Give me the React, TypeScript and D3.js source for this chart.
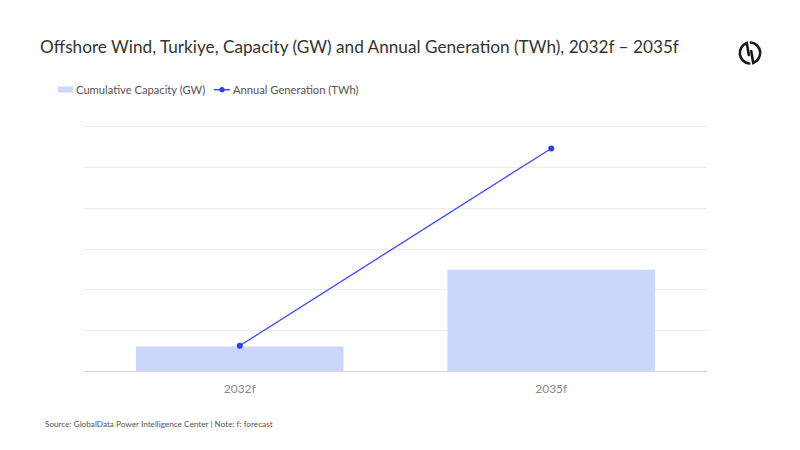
import React, { useEffect, useRef } from 'react';
import * as d3 from 'd3';

// values (no axis labels shown, so scales are estimated)
const categories = ['2032f', '2035f'];
const capacityGW = [0.3, 1.24];
const generationTWh = [1.24, 10.9];
const capacityTicks = [0, 0.5, 1, 1.5, 2, 2.5, 3];

const W = 800;
const H = 450;
const FONT = 'Lato, "Open Sans", sans-serif';

const App: React.FC = () => {
  const svgRef = useRef<SVGSVGElement | null>(null);

  useEffect(() => {
    if (!svgRef.current) return;
    const svg = d3.select(svgRef.current);
    svg.selectAll('*').remove();

    const left = 84, right = 707, top = 126, bottom = 371;

    const x = d3.scaleBand<string>()
      .domain(categories)
      .range([left, right])
      .paddingInner(1 / 3)
      .paddingOuter(1 / 6);

    const yCap = d3.scaleLinear().domain([0, 3]).range([bottom, top]);
    const yGen = d3.scaleLinear().domain([0, 12]).range([bottom, top]);

    svg.append('rect').attr('width', W).attr('height', H).attr('fill', '#fff');

    // title
    svg.append('text')
      .attr('x', 40).attr('y', 53)
      .attr('font-family', FONT)
      .attr('font-size', 17.2)
      .attr('fill', '#333')
      .text('Offshore Wind, Turkiye, Capacity (GW) and Annual Generation (TWh), 2032f \u2013 2035f');

    // logo, roughly: two broken arcs with tails into the middle
    const logo = svg.append('g').attr('transform', 'translate(750,53)')
      .attr('fill', 'none').attr('stroke', '#1a1a1a').attr('stroke-width', 2.6).attr('stroke-linecap', 'round');
    logo.append('path').attr('d', 'M -1.2 2 L -3.2 -9.9 A 10.5 10.5 0 0 0 -0.8 10.45');
    logo.append('path').attr('d', 'M 1.2 -2 L 3.2 9.9 A 10.5 10.5 0 0 0 0.8 -10.45');

    // legend
    const lg = svg.append('g').attr('font-family', FONT).attr('font-size', 11.2).attr('fill', '#555');
    lg.append('rect').attr('x', 58).attr('y', 86.5).attr('width', 15).attr('height', 6).attr('fill', '#cbd6fd');
    lg.append('text').attr('x', 76).attr('y', 93.6).text('Cumulative Capacity (GW)');
    lg.append('line').attr('x1', 214).attr('x2', 230).attr('y1', 89.7).attr('y2', 89.7)
      .attr('stroke', '#3a4bea').attr('stroke-width', 1.5);
    lg.append('circle').attr('cx', 222).attr('cy', 89.7).attr('r', 2.6).attr('fill', '#2b3fe3');
    lg.append('text').attr('x', 233).attr('y', 93.6).text('Annual Generation (TWh)');

    // gridlines
    svg.append('g').selectAll('line')
      .data(capacityTicks)
      .enter().append('line')
      .attr('x1', left).attr('x2', right)
      .attr('y1', d => Math.round(yCap(d)) + 0.5)
      .attr('y2', d => Math.round(yCap(d)) + 0.5)
      .attr('stroke', d => (d === 0 ? '#d6d6d6' : '#ececec'))
      .attr('stroke-width', 1);

    // bars
    svg.append('g').selectAll('rect')
      .data(capacityGW)
      .enter().append('rect')
      .attr('x', (_, i) => x(categories[i])!)
      .attr('width', x.bandwidth())
      .attr('y', d => yCap(d))
      .attr('height', d => bottom - yCap(d))
      .attr('fill', '#cbd6fd');

    // line
    const line = d3.line<number>()
      .x((_, i) => x(categories[i])! + x.bandwidth() / 2)
      .y(d => yGen(d));
    svg.append('path')
      .datum(generationTWh)
      .attr('d', line)
      .attr('fill', 'none')
      .attr('stroke', '#3a4bea')
      .attr('stroke-width', 1.3);
    svg.append('g').selectAll('circle')
      .data(generationTWh)
      .enter().append('circle')
      .attr('cx', (_, i) => x(categories[i])! + x.bandwidth() / 2)
      .attr('cy', d => yGen(d))
      .attr('r', 3)
      .attr('fill', '#2b3fe3');

    // category labels
    svg.append('g').selectAll('text')
      .data(categories)
      .enter().append('text')
      .attr('x', d => x(d)! + x.bandwidth() / 2)
      .attr('y', 393)
      .attr('text-anchor', 'middle')
      .attr('font-family', FONT)
      .attr('font-size', 12)
      .attr('fill', '#8a8a8a')
      .text(d => d);

    // source
    svg.append('text')
      .attr('x', 45).attr('y', 427)
      .attr('font-family', FONT)
      .attr('font-size', 8.2)
      .attr('fill', '#555')
      .text('Source: GlobalData Power Intelligence Center | Note: f: forecast');
  }, []);

  return (
    <div style={{ width: W, height: H, margin: -8 }}>
      <svg ref={svgRef} width={W} height={H} style={{ display: 'block' }}></svg>
    </div>
  );
};

export default App;
